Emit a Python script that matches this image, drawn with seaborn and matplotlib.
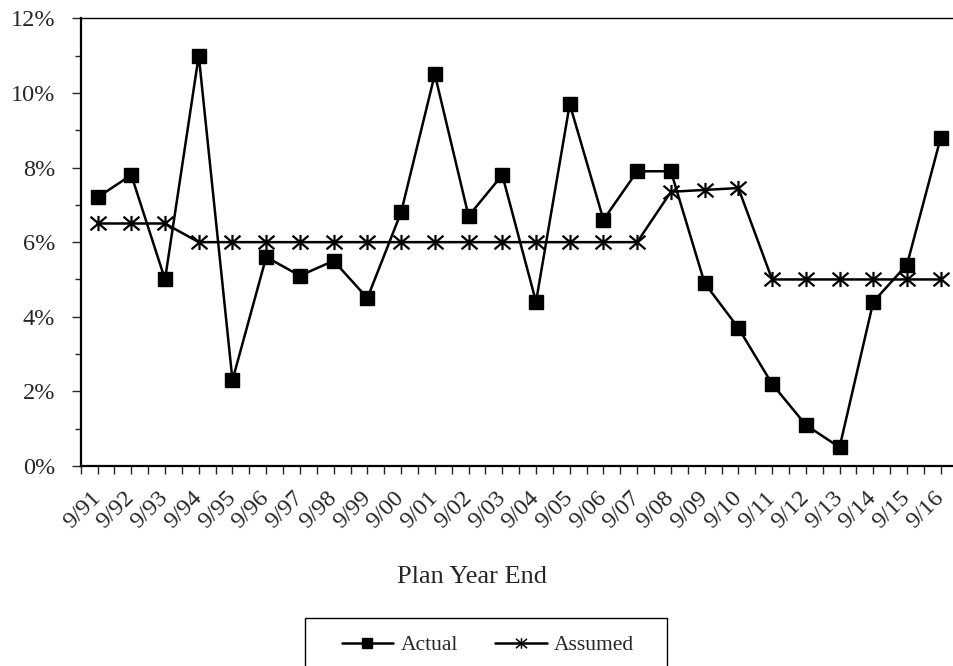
import matplotlib
matplotlib.use("Agg")
import matplotlib.pyplot as plt
import matplotlib.ticker as mticker
from matplotlib.path import Path
from matplotlib.patches import Rectangle
from matplotlib.lines import Line2D
import seaborn as sns
import pandas as pd

# Plan year ends and annual returns (%)
periods = ["9/91", "9/92", "9/93", "9/94", "9/95", "9/96", "9/97", "9/98", "9/99",
           "9/00", "9/01", "9/02", "9/03", "9/04", "9/05", "9/06", "9/07", "9/08",
           "9/09", "9/10", "9/11", "9/12", "9/13", "9/14", "9/15", "9/16"]
actual = [7.2, 7.8, 5.0, 11.0, 2.3, 5.6, 5.1, 5.5, 4.5, 6.8, 10.5, 6.7, 7.8,
          4.4, 9.7, 6.6, 7.9, 7.9, 4.9, 3.7, 2.2, 1.1, 0.5, 4.4, 5.4, 8.8]
assumed = [6.5, 6.5, 6.5, 6.0, 6.0, 6.0, 6.0, 6.0, 6.0, 6.0, 6.0, 6.0, 6.0,
           6.0, 6.0, 6.0, 6.0, 7.35, 7.4, 7.45, 5.0, 5.0, 5.0, 5.0, 5.0, 5.0]
y_ticks = [0, 2, 4, 6, 8, 10, 12]

df = pd.DataFrame({"pos": range(len(periods)), "Actual": actual, "Assumed": assumed})

sns.set_style("white")
plt.rcParams["font.family"] = ["Liberation Serif", "DejaVu Serif"]

# asterisk marker: an X crossed by a vertical bar
star = Path([(-1, -0.85), (1, 0.85), (-1, 0.85), (1, -0.85), (0, -0.95), (0, 0.95)],
            [Path.MOVETO, Path.LINETO, Path.MOVETO, Path.LINETO, Path.MOVETO, Path.LINETO])

W, H = 954, 666
fig = plt.figure(figsize=(W / 100, H / 100), dpi=100)
ax = fig.add_axes([80.7 / W, 1 - 466 / H, (957.6 - 80.7) / W, (466 - 18.3) / H])

sns.lineplot(data=df, x="pos", y="Actual", ax=ax, color="black", lw=1.8,
             marker="s", markersize=10, markerfacecolor="black",
             markeredgecolor="black", markeredgewidth=1, label="Actual")
sns.lineplot(data=df, x="pos", y="Assumed", ax=ax, color="black", lw=1.8,
             marker=star, markersize=11.5, markerfacecolor="none",
             markeredgecolor="black", markeredgewidth=1.6, label="Assumed")

ax.set_xlim(-0.5, len(periods) - 0.5)
ax.set_ylim(0, 12)
ax.set_xlabel("")
ax.set_ylabel("")

ax.set_yticks(y_ticks)
ax.yaxis.set_minor_locator(mticker.MultipleLocator(1))
ax.yaxis.set_major_formatter(mticker.PercentFormatter(xmax=100, decimals=0))
ax.tick_params(axis="y", which="major", direction="out", length=6.5, width=1,
               labelsize=17.5, pad=12, left=True)
ax.tick_params(axis="y", which="minor", direction="out", length=4, width=1, left=True)

ax.set_xticks(range(len(periods)))
ax.set_xticklabels(periods)
ax.set_xticks([i - 0.5 for i in range(len(periods) + 1)], minor=True)
ax.tick_params(axis="x", which="both", direction="out", length=5.8, width=1, bottom=True)
ax.tick_params(axis="x", which="major", labelsize=17.5, pad=15)
for lab in ax.get_xticklabels():
    lab.set_rotation(45)
    lab.set_ha("right")
    lab.set_va("center")
    lab.set_rotation_mode("anchor")

for side in ["left", "bottom"]:
    ax.spines[side].set_linewidth(1.6)
    ax.spines[side].set_color("black")
ax.spines["top"].set_linewidth(1)
ax.spines["top"].set_color("black")
ax.spines["right"].set_linewidth(1)
ax.spines["right"].set_color("black")
ax.grid(False)

fig.text(472 / W, 1 - 577 / H, "Plan Year End", ha="center", va="center", fontsize=19)

ax.get_legend().remove()
handles = [
    Line2D([], [], color="black", lw=1.8, marker="s", markersize=7,
           markerfacecolor="black", markeredgecolor="black"),
    Line2D([], [], color="black", lw=1.8, marker=star, markersize=8,
           markerfacecolor="none", markeredgecolor="black", markeredgewidth=1.1),
]
fig.legend(handles, ["Actual", "Assumed"], loc="center",
           bbox_to_anchor=(488 / W, 1 - 645 / H), ncol=2, frameon=False,
           fontsize=15.5, handlelength=2.4, handletextpad=0.33,
           columnspacing=1.75, borderpad=0)
fig.add_artist(Rectangle((305 / W, 1 - 672 / H), 362 / W, 54 / H,
                         transform=fig.transFigure, fill=False,
                         edgecolor="black", lw=1))

fig.savefig("out.png", dpi=100, facecolor="white")
